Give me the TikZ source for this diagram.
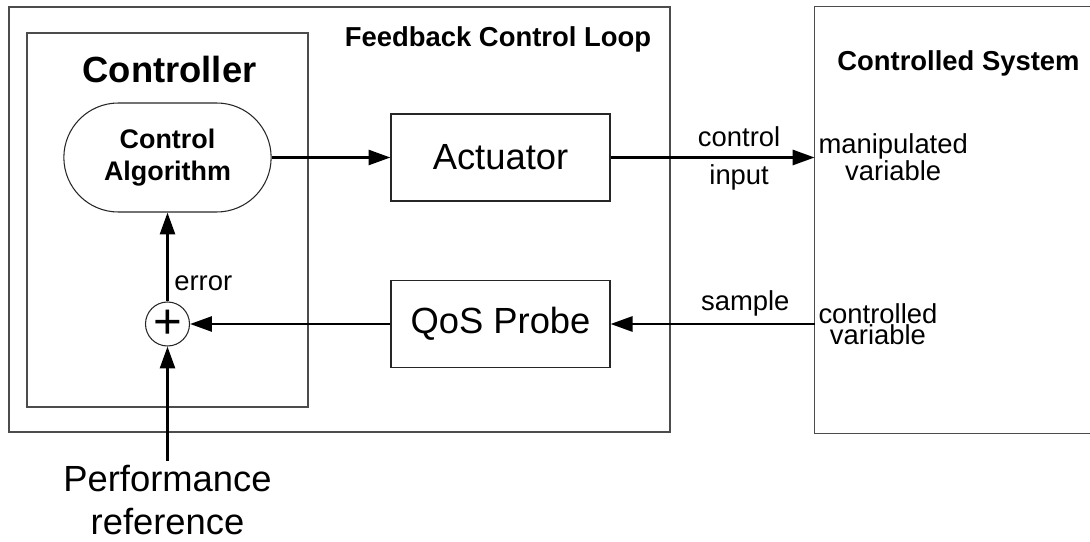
\documentclass[tikz,border=0pt]{standalone}
\usepackage{fontspec}
\setmainfont{Liberation Sans}
\usetikzlibrary{shapes.misc,positioning,arrows.meta}

\begin{document}
\begin{tikzpicture}

  \useasboundingbox (0,0) rectangle (21.8,10.82);

  \coordinate (Loop) at (6.79,6.43);
  \coordinate (LoopTitle) at (9.96,10.04);
  \coordinate (Ctrl) at (3.35,6.42);
  \coordinate (CtrlTitle) at (3.39,9.42);
  \coordinate (Algo) at (3.35,7.67);
  \coordinate (Sum) at (3.35,4.34);
  \coordinate (Ref) at (3.35,1.60);
  \coordinate (Act) at (10.01,7.67);
  \coordinate (Probe) at (10.01,4.34);
  \coordinate (Sys) at (19.25,6.42);
  \coordinate (SysTitle) at (19.17,9.56);

  \tikzstyle{frame}=[draw=black!70,line width=0.6pt,
                     shape=rectangle,inner sep=0pt];
  \tikzstyle{bbox}=[draw=black!85,line width=0.6pt,
                    shape=rectangle,
                    minimum width=4.38cm,minimum height=1.74cm,
                    font=\fontsize{20.7}{24}\selectfont];
  \tikzstyle{title}=[font=\bfseries\fontsize{15.6}{18}\selectfont];
  \tikzstyle{lbl}=[font=\fontsize{15.6}{12}\selectfont,inner sep=2pt];
  \tikzstyle{sig}=[->,line width=1.7pt,
                   >={Triangle[length=12.5pt,width=8.5pt]}];

  % boxes round the loop and the system
  \node[frame,minimum width=13.22cm,minimum height=8.5cm] (LoopBox) at (Loop) {};
  \node[title] (LoopLabel) at (LoopTitle) {Feedback Control Loop};

  \node[frame,minimum width=5.62cm,minimum height=7.48cm] (CtrlBox) at (Ctrl) {};
  \node[font=\bfseries\fontsize{20.7}{24}\selectfont] (CtrlLabel) at (CtrlTitle) {Controller};

  % system box runs off the right edge
  \begin{scope}
    \clip (0,0) rectangle (21.8,10.82);
    \node[shape=rectangle,inner sep=0pt,
          minimum width=5.9cm,minimum height=8.52cm] (SysBox) at (Sys) {};
    \draw[draw=black!70,line width=0.6pt] (SysBox.north east) -- (SysBox.north west)
          -- (SysBox.south west) -- (SysBox.south east);
  \end{scope}
  \node[title] (SysLabel) at (SysTitle) {Controlled System};

  \node[draw=black!85,line width=0.6pt,shape=rounded rectangle,
        minimum width=4.38cm,minimum height=2.18cm,align=center,
        font=\bfseries\fontsize{15.3}{18}\selectfont] (AlgoBox) at (Algo)
        {Control\\Algorithm};

  \node[draw=black!85,line width=0.6pt,circle,minimum size=0.88cm,inner sep=0pt,
        font=\fontsize{28}{28}\selectfont] (SumBox) at (Sum) {+};

  \node[bbox] (ActBox) at (Act) {Actuator};
  \node[bbox] (ProbeBox) at (Probe) {QoS Probe};

  \node[lbl,anchor=west,align=center] (ManipVar) at (SysBox.west |- Act)
        {manipulated\\variable};
  \node[lbl,anchor=west,align=center] (CtrlVar) at (SysBox.west |- Probe)
        {controlled\\variable};

  \node[anchor=north,inner sep=2pt,align=center,
        font=\fontsize{20.7}{24.4}\selectfont] (RefBox) at (Ref)
        {Performance\\reference};

  \draw[sig] (AlgoBox.east) -- (ActBox.west);
  \draw[sig] (ActBox.east) --
                   node[lbl,above=3pt,pos=0.63]{control}
                   node[lbl,below=1pt,pos=0.63]{input} (ManipVar.west);
  \draw[sig] (CtrlVar.west) --
                   node[lbl,above=1.5pt,pos=0.34]{sample} (ProbeBox.east);
  \draw[sig] (ProbeBox.west) -- (SumBox.east);
  \draw[sig] (SumBox.north) --
                   node[lbl,right=1pt,pos=0.21]{error} (AlgoBox.south);
  \draw[sig] (RefBox.north) -- (SumBox.south);
\end{tikzpicture}
\end{document}
